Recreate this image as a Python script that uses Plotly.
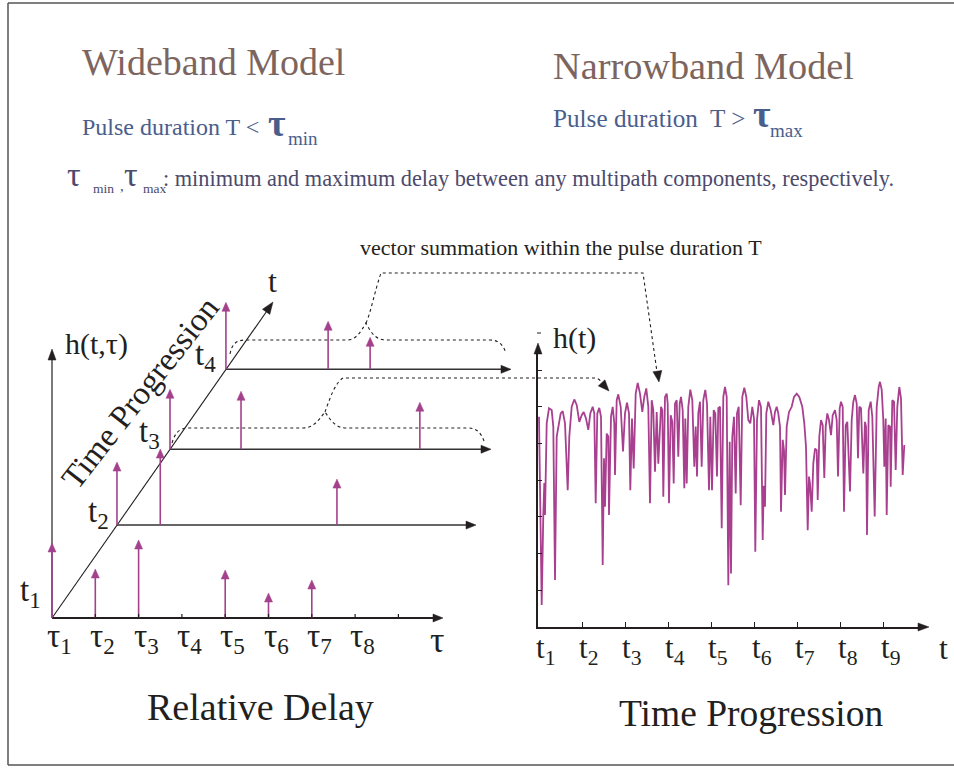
import math
import plotly.graph_objects as go

# ---------------- data ----------------
tau_tick_labels = ["τ<sub>1</sub>", "τ<sub>2</sub>", "τ<sub>3</sub>", "τ<sub>4</sub>",
                   "τ<sub>5</sub>", "τ<sub>6</sub>", "τ<sub>7</sub>", "τ<sub>8</sub>"]
snapshot_labels = ["t<sub>1</sub>", "t<sub>2</sub>", "t<sub>3</sub>", "t<sub>4</sub>"]
# position of each snapshot along the (oblique) time axis, as a fraction of its length
snapshot_time = [0.0, 0.294, 0.534, 0.787]
# multipath components of each snapshot: relative delay (in tau steps) and gain
impulse_delay = [[0, 1, 2, 4, 5, 6], [0, 1, 5.08], [0, 1.64, 5.77], [0, 2.36, 3.33]]
impulse_gain = [[75, 49, 78, 48, 25, 38], [63, 76, 46], [60, 58, 47], [67, 48, 32]]

time_tick_labels = ["t<sub>1</sub>", "t<sub>2</sub>", "t<sub>3</sub>", "t<sub>4</sub>", "t<sub>5</sub>",
                    "t<sub>6</sub>", "t<sub>7</sub>", "t<sub>8</sub>", "t<sub>9</sub>"]
samples_per_step = 43.1

# narrowband received envelope h(t): sample index and amplitude
signal_n = [0, 1.5, 2.7, 4.3, 5.3, 6, 7.7, 10, 12.7, 14.3, 16, 17.7, 19.3, 21.7, 23.7, 26, 28.7, 30.3,
            32.7, 35.3, 37.7, 40.3, 42.7, 44.7, 47, 49.3, 51.3, 53.7, 55.3, 56.7, 58.3, 60.3, 62, 63.7,
            65, 66, 67.7, 69.3, 70, 72, 73.7, 75.3, 76, 77.7, 79.3, 81.7, 84, 86, 88, 90, 91.3, 93,
            94.7, 96.7, 98.7, 101, 103.3, 105.3, 107.3, 109.3, 111, 112.7, 114.3, 116, 117.7, 119.3,
            122, 123.3, 124.3, 126, 127.7, 128.7, 130, 131.7, 133.3, 134.7, 136, 137.7, 139.3, 140.7,
            142, 143.7, 145.3, 146.3, 147.7, 149.3, 151.3, 153.3, 155.3, 156.7, 158, 159.3, 161, 162.7,
            164.3, 166.3, 168, 170, 171.3, 173, 174.7, 176.3, 178, 179.3, 181, 182.7, 184.3, 186, 187.7,
            189.3, 190.7, 192, 193.3, 195, 196.7, 198, 199.7, 201.7, 203.3, 205.3, 207.3, 209.3, 211.3,
            213.3, 215, 216.3, 218, 220, 222, 223.7, 224.7, 226, 227.3, 229.3, 231.7, 234.3, 236, 237.7,
            239.3, 241, 242, 243.7, 245, 246, 247.7, 250, 252.7, 255, 257.7, 260.3, 263.3, 265.3, 267,
            268.7, 270, 271, 272.7, 274.3, 276, 277.7, 278.7, 280.3, 282, 283.7, 285.3, 286.7, 288.3,
            290, 292, 293.7, 296, 297.7, 299, 300.7, 302, 303.7, 305, 306.7, 308.3, 311, 312.7, 314.3,
            316, 317.7, 319, 320.3, 322, 324.3, 326, 327, 328, 329.7, 331.7, 333.3, 335.7, 337.7, 339.7,
            341, 342.7, 344.3, 345.3, 346.7, 347.7, 349.3, 351, 351.7, 353.3, 355, 356.7, 358.3, 360.3,
            362, 363.7, 365.3]
signal_h = [57.3, 22, 6, 30.5, 39.2, 30.5, 55.5, 59.6, 59.1, 54.6, 12.8, 51.9, 54.6, 58.2, 58.8, 55.5,
            37.3, 51.9, 60.0, 62.0, 60.5, 55.9, 57.7, 58.6, 56.8, 53.7, 58.2, 60.0, 58.2, 33.7, 58.2,
            59.7, 57.3, 16.9, 46.0, 32.8, 52.7, 51.9, 30.5, 57.3, 60.0, 55.5, 41.4, 61.8, 63.4, 60.0,
            47.8, 58.2, 61.1, 58.2, 37.3, 56.8, 43.2, 63.6, 66.5, 63.6, 58.6, 62.7, 65.0, 60.0, 33.7,
            61.8, 59.1, 42.3, 58.6, 44.5, 60.0, 59.1, 35.5, 62.7, 63.6, 60.9, 33.7, 57.7, 55.9, 39.1,
            60.9, 61.8, 46.4, 60.9, 62.7, 59.1, 37.8, 56.8, 39.1, 60.0, 64.7, 61.8, 43.7, 54.6, 41.0,
            58.2, 61.4, 43.7, 61.8, 64.6, 60.9, 37.3, 57.3, 37.3, 59.1, 58.2, 41.0, 59.6, 60.0, 26.9,
            62.7, 65.4, 62.7, 11.4, 50.5, 14.6, 51.9, 57.3, 36.4, 58.2, 60.0, 33.2, 62.7, 65.2, 62.7,
            56.4, 55.5, 60.0, 56.8, 20.5, 56.4, 61.8, 60.0, 23.7, 38.5, 32.8, 58.2, 61.4, 59.1, 55.0,
            58.6, 60.0, 58.2, 54.6, 31.4, 51.0, 48.2, 36.0, 54.6, 58.6, 60.0, 62.7, 63.6, 62.7, 60.0,
            55.5, 49.1, 26.4, 41.0, 39.1, 31.4, 44.5, 48.6, 48.2, 34.6, 51.9, 56.4, 55.0, 40.6, 54.6,
            58.2, 56.4, 52.3, 57.7, 59.1, 56.4, 41.0, 59.6, 61.4, 60.0, 31.4, 55.0, 55.9, 36.9, 56.4,
            61.4, 63.2, 60.9, 46.0, 60.0, 59.6, 41.8, 55.9, 54.6, 25.1, 59.1, 61.4, 57.3, 30.1, 60.0,
            65.4, 66.8, 64.6, 56.4, 43.7, 56.8, 30.5, 55.0, 54.6, 38.2, 61.8, 61.4, 42.8, 60.0, 65.4,
            62.3, 41.4, 49.6]

# ---------------- layout constants ----------------
W, H = 954, 768
FONT = "Liberation Serif"
MAG = "#a3418d"
BLACK = "#231f20"
ORIGIN = (52, 618)          # t1 / tau1 corner of the 3-D sketch (canvas px)
TAU_PX = 43.3               # px per tau step
DIAG = (221, -316)          # vector of the oblique time axis
SLICE_END_X = [434, 467, 482, 502]
GAIN_PX = 1.0
# right panel placement (canvas px)
R_X0, R_X1 = 538, 921
R_Y0, R_Y1 = 627, 351
AMP_PX = 3.67
N_X0 = 539

shapes = []
annotations = []


def line(x0, y0, x1, y1, color=BLACK, width=1.2, dash=None):
    d = dict(type="line", xref="x", yref="y", x0=x0, y0=y0, x1=x1, y1=y1,
             line=dict(color=color, width=width))
    if dash:
        d["line"]["dash"] = dash
    shapes.append(d)


def head(tx, ty, dx, dy, length=10, width=8, color=BLACK):
    n = math.hypot(dx, dy)
    ux, uy = dx / n, dy / n
    bx, by = tx - ux * length, ty - uy * length
    px, py = -uy, ux
    p = (f"M {tx:.2f},{ty:.2f} L {bx + px * width / 2:.2f},{by + py * width / 2:.2f} "
         f"L {bx - px * width / 2:.2f},{by - py * width / 2:.2f} Z")
    shapes.append(dict(type="path", xref="x", yref="y", path=p, fillcolor=color,
                       line=dict(color=color, width=0.5)))


def dotted(path, width=1.1):
    shapes.append(dict(type="path", xref="x", yref="y", path=path,
                       line=dict(color=BLACK, width=width, dash="dot")))


def txt(x, y, text, size, color=BLACK, xanchor="left", yanchor="middle", angle=0,
        xref="x", yref="y", xshift=0):
    annotations.append(dict(x=x, y=y, xref=xref, yref=yref, text=text, showarrow=False,
                            xanchor=xanchor, yanchor=yanchor, textangle=angle, xshift=xshift,
                            font=dict(family=FONT, size=size, color=color)))


# ---------------- frame ----------------
line(8, 3, W, 3, color="#555555", width=1.5)
line(8, 3, 8, 765, color="#555555", width=1.5)
line(8, 765, W, 765, color="#555555", width=1.5)

# ---------------- header texts ----------------
BROWN = "#7d655f"
BLUE = "#4a5e8c"
SLATE = "#4b4a6c"
txt(80, 62, "Wideband Model", 38, BROWN)
txt(551, 66, "Narrowband Model", 38.3, BROWN)
txt(80, 127, "Pulse duration T <", 24, BLUE)
txt(266, 123, "<b>τ</b>", 38, BLUE)
txt(286, 138, "min", 19, BLUE)
txt(551, 118, "Pulse duration  T >", 25.2, BLUE)
txt(751, 114, "<b>τ</b>", 38, BLUE)
txt(768, 130, "max", 19, BLUE)
txt(65, 174, "τ", 34, SLATE)
txt(91, 188, "min", 13.5, SLATE)
txt(118, 186, ",", 15, SLATE)
txt(122, 174, "τ", 34, SLATE)
txt(141, 188, "max", 13.5, SLATE)
txt(161, 178, ": minimum and maximum delay between any multipath components, respectively.", 22.3, SLATE)

# ---------------- left: wideband 3-D sketch ----------------
ox, oy = ORIGIN
# h axis
line(ox, oy, ox, 358, width=1.2)
head(ox, 349, 0, -1, 11, 8)
txt(63, 344, "h(t,τ)", 30)
# oblique time axis
tip = (ox + DIAG[0], oy + DIAG[1])
line(ox, oy, tip[0] - 4, tip[1] + 6, width=1.1)
head(tip[0], tip[1], DIAG[0], DIAG[1], 12, 9)
txt(272, 281, "t", 32, xanchor="center")
txt(140, 393, "Time Progression", 33, xanchor="center", angle=-52)

label_off = [(-9, -26), (-6, -12), (-8, -16), (-8, -13)]
for s, f in enumerate(snapshot_time):
    sx, sy = ox + DIAG[0] * f, oy + DIAG[1] * f
    lw = 2.0 if s == 0 else 1.5
    line(sx, sy, SLICE_END_X[s], sy, width=lw, color=BLACK if s == 0 else "#333333")
    head(SLICE_END_X[s] + 9, sy, 1, 0, 10, 8)
    txt(sx + label_off[s][0], sy + label_off[s][1], snapshot_labels[s], 33, xanchor="right")
    for d, g in zip(impulse_delay[s], impulse_gain[s]):
        x = sx + d * TAU_PX
        top = sy - g * GAIN_PX
        line(x, sy, x, top + 6, color=MAG, width=1.6)
        head(x, top, 0, -1, 9, 8, color=MAG)

# tau ticks and labels on the t1 slice
for k in range(1, 9):
    x = ox + k * TAU_PX
    line(x, oy, x, oy - 4, width=1.2)
for k, lab in enumerate(tau_tick_labels):
    txt(ox + k * TAU_PX, 638, lab, 33, xanchor="left", xshift=-7)
txt(428, 640, "τ", 36)
txt(260, 707, "Relative Delay", 38, xanchor="center")

# envelopes ("vector summation within the pulse duration T")
dotted("M 230,354 C 232,344 236,340 246,340 L 346,340 C 356,340 360,333 366,323 "
       "C 371,333 376,340 386,340 L 490,340 C 499,340 503,345 506,353")
dotted("M 366,323 C 371,312 375,290 381,273 L 643,273 L 657,372")
head(659, 382, 16, 107, 11, 9)
dotted("M 172,443 C 175,433 179,428 189,428 L 303,428 C 313,428 318,421 325,412 "
       "C 331,421 336,428 346,428 L 468,428 C 477,428 481,433 484,441")
dotted("M 325,412 C 330,398 335,383 343,378 L 596,378 C 599,379 601,381 603,384")
head(609, 391, 1, 1.1, 11, 9)
txt(358, 247, "vector summation within the pulse duration T", 22)

# ---------------- right: narrowband h(t) ----------------
head(R_X0, 343, 0, -1, 11, 8)
head(R_X1 + 8, R_Y0, 1, 0, 11, 8)
line(537, 333, 541, 333, width=1)
txt(551, 338, "h(t)", 30)
for k, lab in enumerate(time_tick_labels):
    txt(k * samples_per_step, 650, lab, 31, xref="x2", xanchor="left", xshift=-5)
txt(937, 648, "t", 32)
txt(751, 713, "Time Progression", 37.5, xanchor="center")

fig = go.Figure()
fig.add_trace(go.Scatter(x=signal_n, y=signal_h, xaxis="x2", yaxis="y2", mode="lines",
                         line=dict(color="#a8408f", width=1.8), hoverinfo="skip", showlegend=False))

x2_lo = R_X0 - N_X0
x2_hi = R_X1 - N_X0
y2_hi = (R_Y0 - R_Y1) / AMP_PX

fig.update_layout(
    width=W, height=H, margin=dict(l=0, r=0, t=0, b=0),
    paper_bgcolor="white", plot_bgcolor="rgba(0,0,0,0)", showlegend=False,
    xaxis=dict(range=[0, W], domain=[0, 1], visible=False, fixedrange=True),
    yaxis=dict(range=[H, 0], domain=[0, 1], visible=False, fixedrange=True),
    xaxis2=dict(domain=[R_X0 / W, R_X1 / W], range=[x2_lo, x2_hi], anchor="y2",
                showline=True, linecolor=BLACK, linewidth=2, showgrid=False, zeroline=False,
                ticks="inside", ticklen=5, tickwidth=1.3, tickcolor=BLACK,
                tickvals=[k * samples_per_step for k in range(1, 9)], showticklabels=False),
    yaxis2=dict(domain=[(H - R_Y0) / H, (H - R_Y1) / H], range=[0, y2_hi], anchor="x2",
                showline=True, linecolor=BLACK, linewidth=1.5, showgrid=False, zeroline=False,
                ticks="inside", ticklen=4, tickwidth=1.2, tickcolor=BLACK,
                tickvals=[10, 20, 30, 40, 50, 60, 70], showticklabels=False),
    shapes=shapes, annotations=annotations,
)

fig.write_html("out.html")
